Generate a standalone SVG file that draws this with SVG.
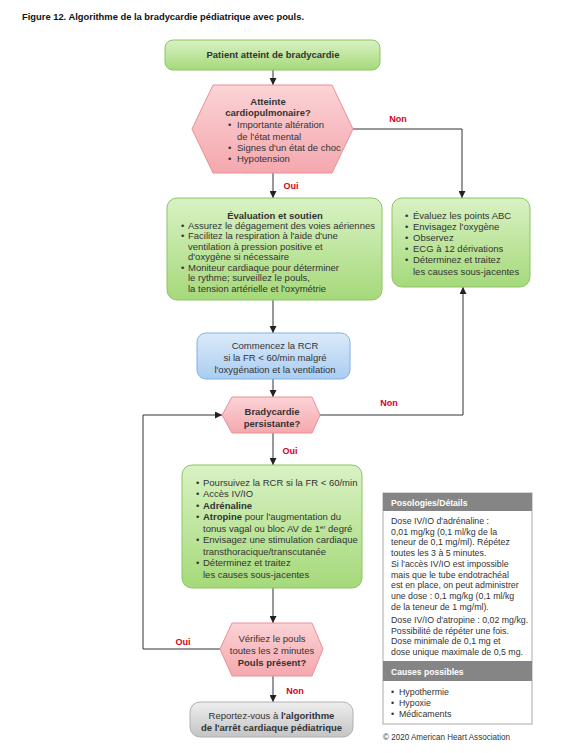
<svg xmlns="http://www.w3.org/2000/svg" width="583" height="753" viewBox="0 0 583 753">
<defs>
<linearGradient id="gGreen" x1="0" y1="0" x2="0" y2="1"><stop offset="0" stop-color="#d9f2c4"/><stop offset="1" stop-color="#a5d97a"/></linearGradient>
<linearGradient id="gPink" x1="0" y1="0" x2="0" y2="1"><stop offset="0" stop-color="#fbd3d6"/><stop offset="1" stop-color="#f4a8ae"/></linearGradient>
<linearGradient id="gBlue" x1="0" y1="0" x2="0" y2="1"><stop offset="0" stop-color="#dbeafa"/><stop offset="1" stop-color="#a9cdf1"/></linearGradient>
<linearGradient id="gGray" x1="0" y1="0" x2="0" y2="1"><stop offset="0" stop-color="#eeeeee"/><stop offset="1" stop-color="#c4c4c4"/></linearGradient>
<marker id="arr" viewBox="0 0 10 10" refX="10" refY="5" markerWidth="7" markerHeight="7" markerUnits="userSpaceOnUse" orient="auto"><path d="M0,0 L10,5 L0,10 z" fill="#222"/></marker>
</defs>
<style>
text{font-family:"Liberation Sans",Arial,sans-serif;fill:#333;font-size:9.5px}
.b{font-weight:bold}
.c{text-anchor:middle}
.lbl{font-weight:bold;fill:#d0021b;font-size:9px}
.green{fill:url(#gGreen);stroke:#8cc562;stroke-width:1}
.pink{fill:url(#gPink);stroke:#ec8f96;stroke-width:1}
.blue{fill:url(#gBlue);stroke:#7eb1e3;stroke-width:1}
.gray{fill:url(#gGray);stroke:#b0b0b0;stroke-width:1}
.conn path{fill:none;stroke:#333;stroke-width:1;marker-end:url(#arr)}
.pn{font-size:8.8px}
.ph{font-size:8.6px;font-weight:bold;fill:#fff}
</style>
<rect width="583" height="753" fill="#fff"/>
<text x="22" y="20" class="b" font-size="10" textLength="282" lengthAdjust="spacingAndGlyphs" style="fill:#111">Figure 12.  Algorithme de la bradycardie pédiatrique avec pouls.</text>

<g id="connectors" class="conn">
<path d="M273,70 V85"/>
<path d="M273,173 V198"/>
<path d="M353,129 H462 V198"/>
<path d="M273,300 V333"/>
<path d="M273,379 V397"/>
<path d="M320,415 H463 V287"/>
<path d="M273,433 V465"/>
<path d="M273,588 V623"/>
<path d="M220,649 H143 V415 H222"/>
<path d="M273,676 V702"/>
<text x="398" y="122" class="lbl c">Non</text>
<text x="291" y="189" class="lbl c">Oui</text>
<text x="389" y="406" class="lbl c">Non</text>
<text x="290" y="454" class="lbl c">Oui</text>
<text x="183" y="645" class="lbl c">Oui</text>
<text x="295" y="694" class="lbl c">Non</text>
</g>

<g id="start">
<rect x="165" y="40" width="215" height="30" rx="8" class="green"/>
<text x="273" y="58" class="b c">Patient atteint de bradycardie</text>
</g>

<g id="cardiopulm">
<polygon points="192,129 213,85 332,85 353,129 332,173 213,173" class="pink"/>
<text x="268" y="105" class="b c">Atteinte</text>
<text x="268" y="116" class="b c">cardiopulmonaire?</text>
<text x="228" y="128">•</text><text x="237" y="128">Importante altération</text>
<text x="237" y="140">de l'état mental</text>
<text x="228" y="151">•</text><text x="237" y="151">Signes d'un état de choc</text>
<text x="228" y="162">•</text><text x="237" y="162">Hypotension</text>
</g>

<g id="evaluation">
<rect x="167" y="198" width="215" height="102" rx="10" class="green"/>
<text x="275" y="218.5" class="b c">Évaluation et soutien</text>
<text x="181" y="228.5">•</text><text x="188" y="228.5">Assurez le dégagement des voies aériennes</text>
<text x="181" y="239">•</text><text x="188" y="239">Facilitez la respiration à l'aide d'une</text>
<text x="188" y="249.5">ventilation à pression positive et</text>
<text x="188" y="260">d'oxygène si nécessaire</text>
<text x="181" y="270.5">•</text><text x="188" y="270.5">Moniteur cardiaque pour déterminer</text>
<text x="188" y="281">le rythme; surveillez le pouls,</text>
<text x="188" y="291.5">la tension artérielle et l'oxymétrie</text>
</g>

<g id="abc">
<rect x="392" y="198" width="138" height="89" rx="10" class="green"/>
<text x="405" y="218.5">•</text><text x="413" y="218.5">Évaluez les points ABC</text>
<text x="405" y="229.5">•</text><text x="413" y="229.5">Envisagez l'oxygène</text>
<text x="405" y="240.5">•</text><text x="413" y="240.5">Observez</text>
<text x="405" y="251.5">•</text><text x="413" y="251.5">ECG à 12 dérivations</text>
<text x="405" y="263">•</text><text x="413" y="263">Déterminez et traitez</text>
<text x="413" y="274.5">les causes sous-jacentes</text>
</g>

<g id="rcr">
<rect x="197" y="333" width="153" height="46" rx="9" class="blue"/>
<text x="275" y="348.5" class="c">Commencez la RCR</text>
<text x="275" y="360.5" class="c">si la FR &lt; 60/min malgré</text>
<text x="275" y="373" class="c">l'oxygénation et la ventilation</text>
</g>

<g id="persistante">
<polygon points="222,415 232,397 312,397 320,415 312,433 232,433" class="pink"/>
<text x="272" y="415" class="b c">Bradycardie</text>
<text x="272" y="427" class="b c">persistante?</text>
</g>

<g id="poursuivez">
<rect x="182" y="465" width="180" height="123" rx="10" class="green"/>
<text x="196" y="485.5">•</text><text x="203" y="485.5">Poursuivez la RCR si la FR &lt; 60/min</text>
<text x="196" y="497">•</text><text x="203" y="497">Accès IV/IO</text>
<text x="196" y="508.5">•</text><text x="203" y="508.5" class="b">Adrénaline</text>
<text x="196" y="520">•</text><text x="203" y="520"><tspan class="b">Atropine</tspan> pour l'augmentation du</text>
<text x="203" y="531.5">tonus vagal ou bloc AV de 1<tspan font-size="6" dy="-3">er</tspan><tspan dy="3"> degré</tspan></text>
<text x="196" y="543">•</text><text x="203" y="543">Envisagez une stimulation cardiaque</text>
<text x="203" y="554.5">transthoracique/transcutanée</text>
<text x="196" y="566">•</text><text x="203" y="566">Déterminez et traitez</text>
<text x="203" y="577.5">les causes sous-jacentes</text>
</g>

<g id="pouls">
<polygon points="220,649 232,623 312,623 323,649 312,676 232,676" class="pink"/>
<text x="272" y="642" class="c">Vérifiez le pouls</text>
<text x="272" y="654" class="c">toutes les 2 minutes</text>
<text x="272" y="665.5" class="b c">Pouls présent?</text>
</g>

<g id="arret">
<rect x="190" y="702" width="163" height="35" rx="10" class="gray"/>
<text x="271.5" y="718.5" class="c">Reportez-vous à <tspan class="b">l'algorithme</tspan></text>
<text x="271.5" y="730.5" class="b c">de l'arrêt cardiaque pédiatrique</text>
</g>

<g id="panel">
<rect x="383" y="493" width="149" height="231" fill="#fff" stroke="#aaa" stroke-width="1"/>
<rect x="383" y="493" width="149" height="18" fill="#858585"/>
<text x="391" y="505.5" class="ph">Posologies/Détails</text>
<text x="391" y="524" class="pn">Dose IV/IO d'adrénaline :</text>
<text x="391" y="534.7" class="pn">0,01 mg/kg (0,1 ml/kg de la</text>
<text x="391" y="545.4" class="pn">teneur de 0,1 mg/ml). Répétez</text>
<text x="391" y="556.1" class="pn">toutes les 3 à 5 minutes.</text>
<text x="391" y="566.8" class="pn">Si l'accès IV/IO est impossible</text>
<text x="391" y="577.5" class="pn">mais que le tube endotrachéal</text>
<text x="391" y="588.2" class="pn">est en place, on peut administrer</text>
<text x="391" y="598.9" class="pn">une dose : 0,1 mg/kg (0,1 ml/kg</text>
<text x="391" y="609.6" class="pn">de la teneur de 1 mg/ml).</text>
<text x="391" y="623" class="pn">Dose IV/IO d'atropine : 0,02 mg/kg.</text>
<text x="391" y="633.7" class="pn">Possibilité de répéter une fois.</text>
<text x="391" y="644.4" class="pn">Dose minimale de 0,1 mg et</text>
<text x="391" y="655.1" class="pn">dose unique maximale de 0,5 mg.</text>
<rect x="383" y="661" width="149" height="20" fill="#858585"/>
<text x="391" y="674.5" class="ph">Causes possibles</text>
<text x="391" y="695" class="pn">•</text><text x="399" y="695" class="pn">Hypothermie</text>
<text x="391" y="706" class="pn">•</text><text x="399" y="706" class="pn">Hypoxie</text>
<text x="391" y="717" class="pn">•</text><text x="399" y="717" class="pn">Médicaments</text>
</g>
<text x="383" y="740" font-size="6.5" textLength="127" lengthAdjust="spacingAndGlyphs">© 2020 American Heart Association</text>
</svg>
